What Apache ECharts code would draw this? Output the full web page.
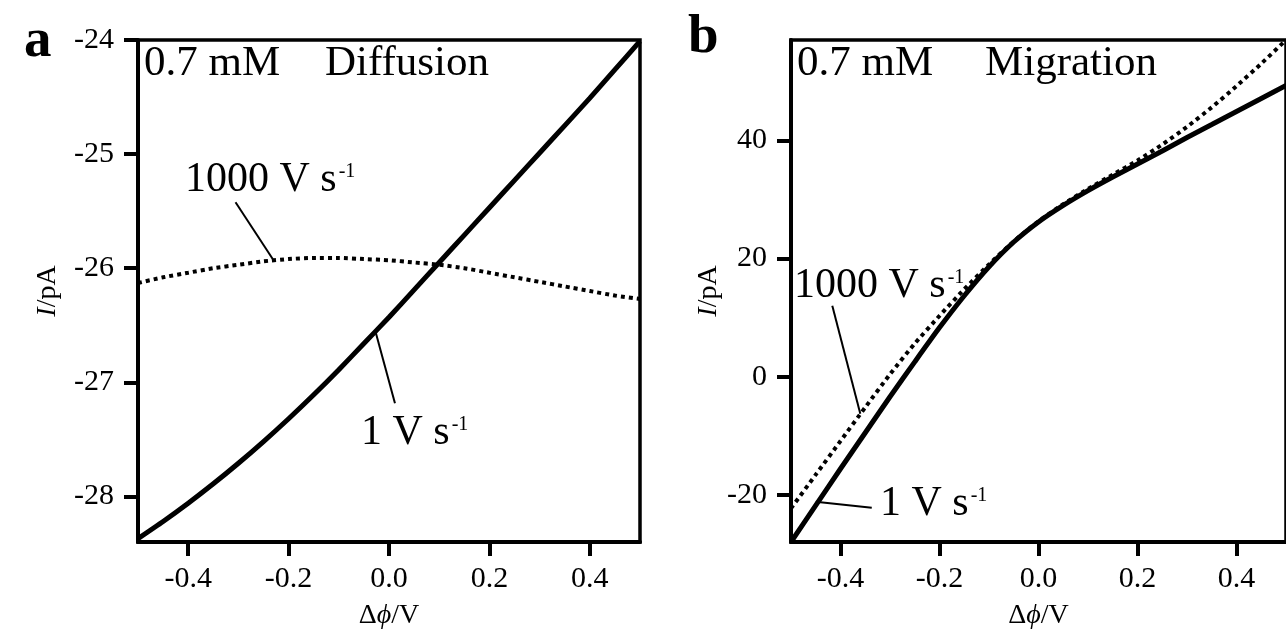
<!DOCTYPE html>
<html>
<head>
<meta charset="utf-8">
<script src="https://cdn.jsdelivr.net/npm/echarts@6/dist/echarts.min.js"></script>
<style>
  html, body { margin: 0; padding: 0; background: #fff; }
  #main { width: 1286px; height: 635px; }
</style>
</head>
<body>
<div id="main"></div>
<script>
// potential axis, V
const potential = [-0.5, -0.45, -0.4, -0.35, -0.3, -0.25, -0.2, -0.15, -0.1, -0.05, 0,
  0.05, 0.1, 0.15, 0.2, 0.25, 0.3, 0.35, 0.4, 0.45, 0.5];
// panel a: diffusion, current in pA
const diffSlow = [-28.37, -28.22, -28.06, -27.89, -27.71, -27.52, -27.32, -27.11, -26.89, -26.66, -26.43,
  -26.19, -25.95, -25.71, -25.47, -25.23, -24.99, -24.75, -24.51, -24.26, -24.01];
const diffFast = [-26.13, -26.08, -26.04, -26.00, -25.97, -25.94, -25.92, -25.91, -25.91, -25.92, -25.93,
  -25.95, -25.97, -26.00, -26.04, -26.08, -26.12, -26.16, -26.20, -26.24, -26.27];
// panel b: migration, current in pA
const migSlow = [-28, -21.8, -15.6, -9.5, -3.4, 2.5, 8.3, 13.7, 18.6, 22.8, 26.2,
  29.0, 31.5, 33.8, 36.0, 38.2, 40.5, 42.7, 44.9, 47.1, 49.3];
const migFast = [-22.3, -16.6, -10.9, -5.2, 0.4, 5.6, 10.3, 14.8, 19.0, 22.9, 26.3,
  29.2, 31.8, 34.2, 36.6, 39.3, 42.3, 45.6, 49.2, 53.0, 57.0];

const xTicks = [-0.4, -0.2, 0, 0.2, 0.4];
const yTicksA = [-28, -27, -26, -25, -24];
const yTicksB = [-20, 0, 20, 40];

const FONT = '"Liberation Serif", "Times New Roman", serif';

const zip = (xs, ys) => xs.map((x, i) => [x, ys[i]]);

const chart = echarts.init(document.getElementById('main'));

const nameRich = {
  n: { fontFamily: FONT, fontSize: 28, color: '#000' },
  i: { fontFamily: FONT, fontSize: 28, fontStyle: 'italic', color: '#000' }
};

function xAxisFor(grid) {
  return {
    gridIndex: grid, type: 'value', min: -0.5, max: 0.5,
    name: '{n|Δ}{i|ϕ}{n|/V}', nameLocation: 'middle', nameGap: 60,
    nameTextStyle: { rich: nameRich },
    splitLine: { show: false },
    axisLine: { onZero: false, lineStyle: { color: '#000', width: 4 } },
    axisTick: { customValues: xTicks, length: 14, lineStyle: { width: 4, color: '#000' } },
    axisLabel: {
      customValues: xTicks, margin: 22, fontFamily: FONT, fontSize: 30, color: '#000',
      formatter: v => v.toFixed(1)
    }
  };
}

function yAxisFor(grid, min, max, ticks, gap) {
  return {
    gridIndex: grid, type: 'value', min: min, max: max,
    name: '{i|I}{n|/pA}', nameLocation: 'middle', nameGap: gap, nameRotate: 90,
    nameTextStyle: { rich: nameRich },
    splitLine: { show: false },
    axisLine: { onZero: false, lineStyle: { color: '#000', width: 4 } },
    axisTick: { customValues: ticks, length: 14, lineStyle: { width: 4, color: '#000' } },
    axisLabel: { customValues: ticks, margin: 24, fontFamily: FONT, fontSize: 30, color: '#000' }
  };
}

function curve(grid, data, dotted) {
  return {
    type: 'line', xAxisIndex: grid, yAxisIndex: grid,
    data: data, showSymbol: false, smooth: 0.2, silent: true,
    lineStyle: dotted ? { color: '#000', width: 4, type: [4, 4] } : { color: '#000', width: 5 }
  };
}

chart.setOption({
  animation: false,
  backgroundColor: '#fff',
  grid: [
    { left: 138, top: 40, width: 502, height: 504, show: true, borderColor: '#000', borderWidth: 3.5 },
    { left: 791, top: 40, width: 498, height: 504, show: true, borderColor: '#000', borderWidth: 3.5 }
  ],
  xAxis: [xAxisFor(0), xAxisFor(1)],
  yAxis: [yAxisFor(0, -28.4, -24, yTicksA, 76), yAxisFor(1, -28, 57, yTicksB, 56)],
  series: [
    curve(0, zip(potential, diffFast), true),
    curve(0, zip(potential, diffSlow), false),
    curve(1, zip(potential, migFast), true),
    curve(1, zip(potential, migSlow), false)
  ]
});

// annotations: leader lines anchored on data points
function rateLabel(text, x, y, size) {
  return {
    type: 'text', x: x, y: y,
    style: {
      text: '{t|' + text + '}{s|-1}',
      rich: {
        t: { fontFamily: FONT, fontSize: size, fill: '#000' },
        s: { fontFamily: FONT, fontSize: 20, fill: '#000', padding: [0, 0, 17, 2] }
      }
    }
  };
}
function leader(p, q) {
  return { type: 'line', shape: { x1: p[0], y1: p[1], x2: q[0], y2: q[1] }, style: { stroke: '#000', lineWidth: 2 } };
}
function plainText(text, x, y, size, bold) {
  return {
    type: 'text', x: x, y: y,
    style: { text: text, fontFamily: FONT, fontSize: size, fontWeight: bold ? 'bold' : 'normal', fill: '#000' }
  };
}

const aFast = chart.convertToPixel({ gridIndex: 0 }, [-0.23, -25.93]);
const aSlow = chart.convertToPixel({ gridIndex: 0 }, [-0.026, -26.57]);
const bFast = chart.convertToPixel({ gridIndex: 1 }, [-0.36, -6.3]);
const bSlow = chart.convertToPixel({ gridIndex: 1 }, [-0.45, -21.2]);

chart.setOption({
  graphic: [
    plainText('a', 24, 14, 55, true),
    plainText('b', 688, 10, 55, true),
    plainText('0.7 mM', 144, 42, 43),
    plainText('Diffusion', 325, 42, 43),
    plainText('0.7 mM', 797, 42, 43),
    plainText('Migration', 985, 42, 43),
    leader([aFast[0] - 38, aFast[1] - 58], aFast),
    rateLabel('1000 V s', 185, 159, 42),
    leader(aSlow, [aSlow[0] + 19, aSlow[1] + 70]),
    rateLabel('1 V s', 361, 412, 42),
    leader([bFast[0] - 28, bFast[1] - 108], bFast),
    rateLabel('1000 V s', 794, 265, 42),
    leader(bSlow, [bSlow[0] + 56, bSlow[1] + 6]),
    rateLabel('1 V s', 880, 483, 42)
  ]
});
</script>
</body>
</html>
